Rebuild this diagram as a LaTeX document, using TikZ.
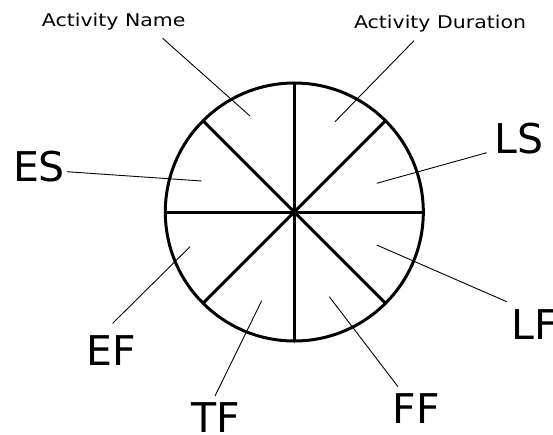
\documentclass[tikz,border=0pt]{standalone}
\usepackage{fontspec}
\setmainfont{DejaVu Sans}
\usetikzlibrary{calc}
\begin{document}
\begin{tikzpicture}[x=1pt,y=-1pt,
  bigl/.style={inner sep=0pt,anchor=center,font=\fontsize{41}{41}\selectfont},
  smalll/.style={inner sep=0pt,anchor=base,font=\fontsize{17.5}{18}\selectfont},
  thick line/.style={line width=3pt,line cap=round},
  leader/.style={line width=0.9pt}]
\useasboundingbox (0,0) rectangle (553,434);
\fill[white] (0,0) rectangle (553,434);
% wheel
\coordinate (c) at (294.3,212);
\node[circle,draw,line width=3pt,minimum size=258pt,inner sep=0pt] (wheel) at (c) {};
\foreach \a in {0,45,90,135}{
  \draw[thick line] ($(c)+(\a:129)$) -- ($(c)+(\a+180:129)$);
}
% labels
\node[smalll] (an) at (113.7,26) {\scalebox{1.17}[1]{Activity Name}};
\node[smalll] (ad) at (440,28) {\scalebox{1.17}[1]{Activity Duration}};
\node[bigl] (es) at (39,166.7) {ES};
\node[bigl] (ef) at (111,351) {EF};
\node[bigl] (tf) at (215.7,418) {TF};
\node[bigl] (ff) at (416,409) {FF};
\node[bigl] (ls) at (519,139) {LS};
\node[bigl] (lf) at (535,324.3) {LF};
% leader ends
\coordinate (an1) at (162.7,38.3);  \coordinate (an2) at (250,116);
\coordinate (ad1) at (414,40.7);    \coordinate (ad2) at (335,121.7);
\coordinate (es1) at (66.7,171.7);  \coordinate (es2) at (201.7,181);
\coordinate (ef1) at (112.7,323.3); \coordinate (ef2) at (190,246.7);
\coordinate (tf1) at (215,396);     \coordinate (tf2) at (261.7,300.7);
\coordinate (ff1) at (398,386.7);   \coordinate (ff2) at (329.3,296.7);
\coordinate (lf1) at (506.7,301.7); \coordinate (lf2) at (376.7,245);
\coordinate (ls1) at (486.7,152.7); \coordinate (ls2) at (376.7,183.3);
\foreach \n in {an,ad,es,ef,tf,ff,lf,ls}{
  \draw[leader] (\n1) -- (\n2);
}
\end{tikzpicture}
\end{document}
